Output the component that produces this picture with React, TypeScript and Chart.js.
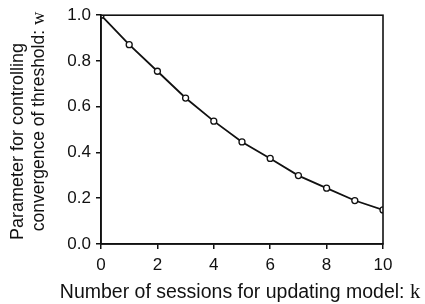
import React, { useEffect, useRef } from "react";
import { Chart, registerables } from "chart.js";

Chart.register(...registerables);

const kValues = [0, 1, 2, 3, 4, 5, 6, 7, 8, 9, 10];
const wValues = [1.0, 0.871, 0.755, 0.638, 0.537, 0.446, 0.374, 0.299, 0.244, 0.19, 0.149];
const xTitleParts = ["Number of sessions for updating model: ", "k"];
const yTitleLine1 = ["Parameter for controlling", ""];
const yTitleLine2 = ["convergence of threshold: ", "w"];

const FONT = "'Liberation Sans', Arial, Helvetica, sans-serif";
const SERIF = "'Liberation Serif', 'Times New Roman', serif";

function drawParts(ctx: CanvasRenderingContext2D, parts: string[], cx: number, cy: number, size: number, rot: number) {
  ctx.save();
  ctx.translate(cx, cy);
  ctx.rotate(rot);
  ctx.fillStyle = "#111";
  ctx.textBaseline = "middle";
  ctx.textAlign = "left";
  const f0 = `${size}px ${FONT}`;
  const f1 = `${size + 1}px ${SERIF}`;
  ctx.font = f0;
  const w0 = ctx.measureText(parts[0]).width;
  ctx.font = f1;
  const w1 = ctx.measureText(parts[1]).width;
  let x = -(w0 + w1) / 2;
  ctx.font = f0;
  ctx.fillText(parts[0], x, 0);
  ctx.font = f1;
  ctx.fillText(parts[1], x + w0, 0);
  ctx.restore();
}

const frame = {
  id: "frame",
  afterDraw(chart: any) {
    const { ctx, chartArea: a } = chart;
    ctx.save();
    ctx.strokeStyle = "#111";
    ctx.lineWidth = 1.6;
    ctx.strokeRect(a.left, a.top, a.right - a.left, a.bottom - a.top);
    ctx.restore();
    drawParts(ctx, xTitleParts, 240, 293, 19.5, 0);
    drawParts(ctx, yTitleLine1, 18.5, 141.5, 18, -Math.PI / 2);
    drawParts(ctx, yTitleLine2, 39, 121.5, 17.5, -Math.PI / 2);
  },
};

export default function App() {
  const ref = useRef<HTMLCanvasElement | null>(null);
  useEffect(() => {
    const chart = new Chart(ref.current as HTMLCanvasElement, {
      type: "line",
      data: {
        datasets: [
          {
            data: kValues.map((k, i) => ({ x: k, y: wValues[i] })),
            borderColor: "#111",
            borderWidth: 1.8,
            pointRadius: 3,
            pointBorderWidth: 1.3,
            pointBackgroundColor: "#fff",
            pointBorderColor: "#111",
            tension: 0,
          },
        ],
      },
      options: {
        animation: false,
        responsive: false,
        layout: { padding: { top: 13, right: 42, left: 0, bottom: 0 } },
        plugins: { legend: { display: false }, tooltip: { enabled: false } },
        scales: {
          x: {
            type: "linear",
            min: 0,
            max: 10,
            afterFit: (s: any) => {
              s.height = 60;
            },
            ticks: {
              stepSize: 2,
              color: "#111",
              padding: 6,
              font: { family: FONT, size: 17 },
            },
            grid: { drawOnChartArea: false, drawTicks: true, tickLength: 5, color: "#111", lineWidth: 1.5 },
            border: { display: true, color: "#111", width: 1.6 },
          },
          y: {
            min: 0,
            max: 1,
            afterFit: (s: any) => {
              s.width = 101;
            },
            ticks: {
              stepSize: 0.2,
              color: "#111",
              padding: 5,
              font: { family: FONT, size: 17 },
              callback: (v: any) => Number(v).toFixed(1),
            },
            grid: { drawOnChartArea: false, drawTicks: true, tickLength: 5, color: "#111", lineWidth: 1.5 },
            border: { display: true, color: "#111", width: 1.6 },
          },
        },
      },
      plugins: [frame],
    });
    return () => chart.destroy();
  }, []);
  return (
    <div style={{ position: "fixed", left: 0, top: 0, width: 425, height: 304, background: "#fff" }}>
      <canvas ref={ref} width={425} height={304} />
    </div>
  );
}
